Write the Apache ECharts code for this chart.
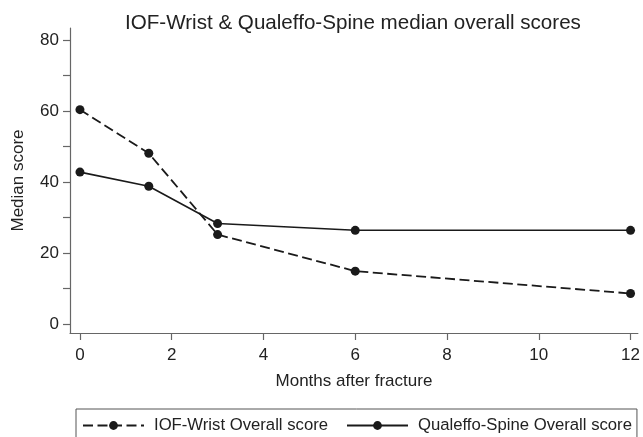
<!DOCTYPE html>
<html>
<head>
<meta charset="utf-8">
<script src="https://cdn.jsdelivr.net/npm/echarts@6/dist/echarts.min.js"></script>
<style>html,body{margin:0;padding:0;background:#fff;}#c{width:643px;height:437px;}</style>
</head>
<body>
<div id="c"></div>
<script>
const months = [0, 1.5, 3, 6, 12];
const iofWrist = [60.4, 48.1, 25.2, 14.9, 8.6];
const qualeffoSpine = [42.8, 38.8, 28.3, 26.4, 26.4];
const xTicks = [0, 2, 4, 6, 8, 10, 12];
const yTicks = [0, 10, 20, 30, 40, 50, 60, 70, 80];
const yLabels = [0, 20, 40, 60, 80];

const FONT = '"Liberation Sans", Arial, Helvetica, sans-serif';
const TXT = '#222';
const AX = '#666';
const LINE = '#1a1a1a';

const chart = echarts.init(document.getElementById('c'), null, {renderer: 'canvas'});
chart.setOption({
  animation: false,
  backgroundColor: '#fff',
  textStyle: {fontFamily: FONT},
  title: {
    text: 'IOF-Wrist & Qualeffo-Spine median overall scores',
    left: 125, top: 13, padding: 0,
    textStyle: {fontFamily: FONT, fontSize: 20.6, fontWeight: 'normal', color: TXT}
  },
  grid: {left: 70, right: 3, top: 28, bottom: 104, containLabel: false},
  xAxis: {
    type: 'value',
    min: -0.217, max: 12.16,
    name: 'Months after fracture',
    nameLocation: 'middle', nameGap: 40, nameMoveOverlap: false,
    nameTextStyle: {fontFamily: FONT, fontSize: 17, color: TXT},
    axisLine: {show: true, onZero: false, lineStyle: {color: AX, width: 1.2}},
    axisTick: {show: true, length: 7, lineStyle: {color: AX, width: 1.2}, customValues: xTicks},
    axisLabel: {fontFamily: FONT, fontSize: 17, color: TXT, margin: 14, customValues: xTicks},
    splitLine: {show: false}
  },
  yAxis: {
    type: 'value',
    min: -2.53, max: 83.4,
    name: 'Median score',
    nameLocation: 'middle', nameGap: 43, nameMoveOverlap: false,
    nameTextStyle: {fontFamily: FONT, fontSize: 17, color: TXT},
    axisLine: {show: true, onZero: false, lineStyle: {color: AX, width: 1.2}},
    axisTick: {show: true, length: 7, lineStyle: {color: AX, width: 1.2}, customValues: yTicks},
    axisLabel: {fontFamily: FONT, fontSize: 17, color: TXT, margin: 11, customValues: yLabels},
    splitLine: {show: false}
  },
  legend: {
    left: 76, top: 409,
    orient: 'horizontal',
    padding: [8, 5, 12, 6],
    itemGap: 18,
    itemWidth: 61, itemHeight: 11,
    borderColor: '#555', borderWidth: 1, borderRadius: 0,
    textStyle: {fontFamily: FONT, fontSize: 16.7, color: TXT, padding: [0, 0, 0, 5]},
    data: ['IOF-Wrist Overall score', 'Qualeffo-Spine Overall score']
  },
  series: [
    {
      name: 'IOF-Wrist Overall score',
      type: 'line',
      data: months.map((m, i) => [m, iofWrist[i]]),
      symbol: 'circle', symbolSize: 9,
      lineStyle: {color: LINE, width: 1.8, type: [10, 4.5]},
      itemStyle: {color: LINE}
    },
    {
      name: 'Qualeffo-Spine Overall score',
      type: 'line',
      data: months.map((m, i) => [m, qualeffoSpine[i]]),
      symbol: 'circle', symbolSize: 9,
      lineStyle: {color: LINE, width: 1.6, type: 'solid'},
      itemStyle: {color: LINE}
    }
  ]
});
</script>
</body>
</html>
